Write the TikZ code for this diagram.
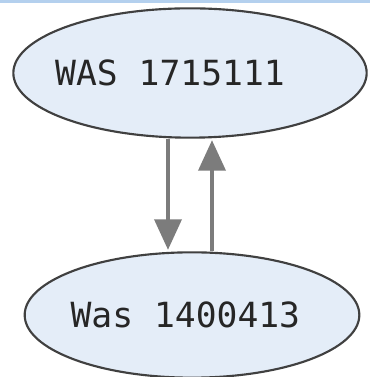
\documentclass[tikz,border=0pt]{standalone}
\usepackage{fontspec}
\setmonofont{DejaVu Sans Mono}
\usetikzlibrary{shapes.geometric,arrows.meta}
\definecolor{nodefill}{HTML}{E4EDF8}
\definecolor{nodeedge}{HTML}{404040}
\definecolor{arrgray}{HTML}{7C7C7C}
\definecolor{barblue}{HTML}{B4D0EE}
\tikzset{
  ell/.style={ellipse, draw=nodeedge, line width=1.6pt, fill=nodefill, inner sep=0pt,
    font=\ttfamily\fontsize{26pt}{28pt}\selectfont, text=black!85},
  arr/.style={draw=arrgray, line width=3.6pt, -{Triangle[width=20pt,length=23pt]}, shorten >=1pt}
}
\begin{document}
\begin{tikzpicture}[x=0.75pt,y=0.75pt]
\useasboundingbox (0,0) rectangle (370,377);
\fill[white] (0,0) rectangle (370,377);
\fill[barblue] (0,374) rectangle (370,377);
\node[ell, minimum width=265pt, minimum height=97pt] (top) at (190,304) {\makebox[0pt]{\kern-30pt WAS 1715111}};
\node[ell, minimum width=251pt, minimum height=94pt] (bot) at (192,62) {\makebox[0pt]{\kern-10pt Was 1400413}};
\draw[arr] ([xshift=-16.5pt]top.south) -- ([xshift=-16.5pt]top.south |- bot.north);
\draw[arr] ([xshift=16.5pt]top.south |- bot.north) -- ([xshift=16.5pt]top.south);
\end{tikzpicture}
\end{document}
